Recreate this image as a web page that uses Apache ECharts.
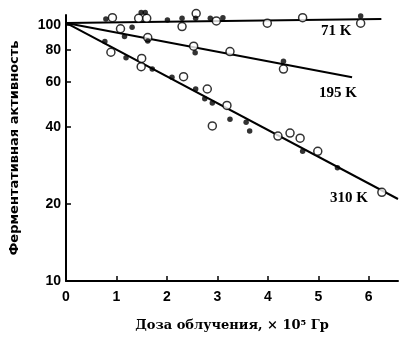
<!DOCTYPE html>
<html><head><meta charset="utf-8">
<script src="https://cdn.jsdelivr.net/npm/echarts@6/dist/echarts.min.js"></script>
<style>html,body{margin:0;padding:0;background:#fff}#c{width:401px;height:337px}</style>
</head><body><div id="c"></div>
<script>
// Tick labels
const yTicks = [10, 20, 40, 60, 80, 100];
const xTicks = [0, 1, 2, 3, 4, 5, 6];

// 71 K
const k71OpenX = [0.92, 1.44, 1.60, 2.30, 2.58, 2.98, 3.99, 4.69, 5.84];
const k71OpenY = [106.7, 106.1, 106.1, 98.5, 110.8, 103.6, 101.5, 106.7, 101.5];
const k71FillX = [0.79, 1.49, 1.57, 2.01, 2.30, 2.57, 2.86, 3.11, 5.84];
const k71FillY = [105.4, 111.9, 111.9, 104.5, 106.1, 106.1, 106.1, 106.7, 108.3];
const k71LineX = [0, 6.25];
const k71LineY = [101.8, 105.4];

// 195 K
const k195OpenX = [1.08, 1.62, 2.53, 3.25, 4.31];
const k195OpenY = [96.6, 89.2, 82.6, 78.7, 67.2];
const k195FillX = [1.31, 1.16, 1.62, 2.56, 4.31];
const k195FillY = [97.8, 90.0, 86.6, 77.9, 72.1];
const k195LineX = [0, 5.67];
const k195LineY = [101.8, 62.5];

// 310 K
const k310OpenX = [0.89, 1.50, 1.49, 2.33, 2.80, 3.19, 2.90, 4.20, 4.44, 4.64, 4.99, 6.26];
const k310OpenY = [78.2, 74.0, 68.7, 62.8, 56.2, 48.5, 40.3, 36.8, 37.8, 36.1, 32.1, 22.2];
const k310FillX = [0.77, 1.19, 1.71, 2.10, 2.57, 2.75, 2.90, 3.25, 3.57, 3.64, 4.69, 5.38];
const k310FillY = [86.2, 74.4, 67.2, 62.4, 56.2, 51.5, 49.6, 42.8, 41.7, 38.5, 32.1, 27.7];
const k310LineX = [0, 6.58];
const k310LineY = [101.8, 20.9];

const zip = (a, b) => a.map((v, i) => [v, b[i]]);

const lineS = (x, y) => ({type: 'line', data: zip(x, y), symbol: 'none', clip: false,
  lineStyle: {color: '#000', width: 2}, z: 2});
const openS = (x, y) => ({type: 'scatter', data: zip(x, y), symbol: 'circle', symbolSize: 8, clip: false,
  itemStyle: {color: '#fff', borderColor: '#000', borderWidth: 1.5}, z: 3});
const fillS = (x, y) => ({type: 'scatter', data: zip(x, y), symbol: 'circle', symbolSize: 5.5, clip: false,
  itemStyle: {color: '#000'}, z: 4});

const chart = echarts.init(document.getElementById('c'), null, {renderer: 'canvas'});
const labFont = {fontFamily: 'Liberation Sans', fontWeight: 'bold', fontSize: 14, color: '#000'};
chart.setOption({
  animation: false,
  backgroundColor: '#fff',
  grid: {left: 62, top: 15, right: 3, bottom: 52, containLabel: false},
  xAxis: {
    type: 'value', min: 0, max: 6.58, interval: 1,
    axisLine: {lineStyle: {color: '#000', width: 2}},
    axisTick: {inside: true, length: 5, lineStyle: {color: '#000', width: 1.5}},
    axisLabel: Object.assign({margin: 9, showMaxLabel: false, formatter: v => xTicks.includes(v) ? String(v) : ''}, labFont),
    splitLine: {show: false},
    name: 'Доза облучения, × 10⁵ Гр', nameLocation: 'middle', nameGap: 38,
    nameTextStyle: {fontFamily: 'DejaVu Serif', fontWeight: 'bold', fontSize: 13, color: '#000'}
  },
  yAxis: {
    type: 'log', min: 10, max: 109.3, logBase: 10,
    axisLine: {onZero: false, lineStyle: {color: '#000', width: 2}},
    axisTick: {inside: true, length: 5, customValues: yTicks, lineStyle: {color: '#000', width: 1.5}},
    axisLabel: Object.assign({margin: 5, customValues: yTicks}, labFont),
    splitLine: {show: false},
    name: 'Ферментативная активность', nameLocation: 'middle', nameGap: 45, nameRotate: 90,
    nameTextStyle: {fontFamily: 'DejaVu Sans', fontWeight: 'bold', fontSize: 13, color: '#000'}
  },
  graphic: [
    {type: 'text', left: 321, top: 24, style: {text: '71 K', font: 'bold 15px "Liberation Serif"', fill: '#000'}},
    {type: 'text', left: 319, top: 86, style: {text: '195 K', font: 'bold 15px "Liberation Serif"', fill: '#000'}},
    {type: 'text', left: 330, top: 191, style: {text: '310 K', font: 'bold 15px "Liberation Serif"', fill: '#000'}}
  ],
  series: [
    lineS(k71LineX, k71LineY), lineS(k195LineX, k195LineY), lineS(k310LineX, k310LineY),
    openS(k71OpenX, k71OpenY), openS(k195OpenX, k195OpenY), openS(k310OpenX, k310OpenY),
    fillS(k71FillX, k71FillY), fillS(k195FillX, k195FillY), fillS(k310FillX, k310FillY)
  ]
});
</script></body></html>
